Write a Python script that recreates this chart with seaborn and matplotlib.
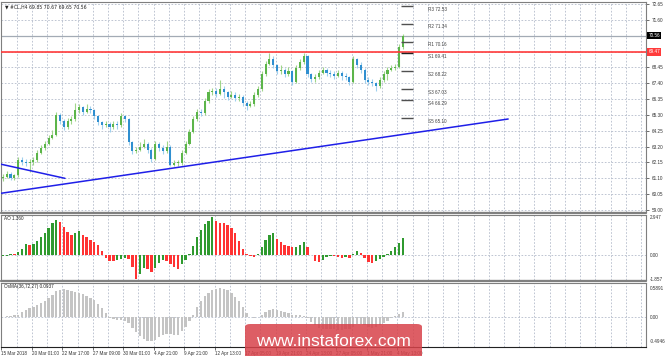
import numpy as np
import pandas as pd
import matplotlib
matplotlib.use("Agg")
import matplotlib.pyplot as plt
import seaborn as sns
from matplotlib.patches import FancyBboxPatch
from matplotlib.lines import Line2D

# ---------------- data ----------------
closes = [61.2, 61.4, 61.1, 61.3, 62.3, 62.2, 62.1, 62.2, 62.3, 62.8,
          63.1, 63.4, 63.8, 64.0, 65.3, 64.9, 64.5, 64.9, 65.0, 65.6,
          65.8, 65.5, 65.7, 65.6, 65.2, 64.8, 64.6, 64.7, 64.5, 64.7,
          64.6, 65.2, 65.0, 63.5, 62.9, 63.0, 63.2, 63.4, 63.0, 62.4,
          63.4, 63.1, 62.9, 63.2, 62.0, 62.1, 62.1, 62.8, 63.4, 64.2,
          65.0, 65.5, 65.4, 66.2, 66.8, 66.9, 66.7, 67.0, 66.8, 66.5,
          66.6, 66.4, 66.5, 66.1, 65.9, 66.0, 66.6, 67.0, 68.0, 68.7,
          69.0, 68.6, 68.2, 68.3, 68.0, 68.2, 67.5, 68.4, 68.8, 69.2,
          68.0, 67.7, 67.8, 68.1, 68.3, 68.1, 68.0, 67.9, 68.1, 67.9,
          67.8, 67.5, 69.0, 68.6, 68.3, 67.6, 67.5, 67.4, 67.2, 67.6,
          68.0, 68.3, 68.4, 68.5, 69.8, 70.56]
highs = [61.4, 61.6, 61.5, 61.4, 62.5, 62.5, 62.4, 62.4, 62.5, 63.0,
         63.3, 63.6, 64.0, 64.3, 65.5, 65.4, 65.0, 65.1, 65.2, 66.1,
         66.0, 65.9, 66.0, 65.9, 65.7, 65.3, 64.9, 64.9, 64.8, 64.9,
         64.9, 65.4, 65.3, 65.1, 63.6, 63.2, 63.5, 63.7, 63.5, 63.1,
         63.6, 63.5, 63.3, 63.6, 63.3, 62.3, 62.3, 63.0, 63.6, 64.4,
         65.2, 65.7, 65.7, 66.4, 67.0, 67.1, 67.1, 67.6, 67.2, 66.9,
         66.9, 66.8, 66.7, 66.6, 66.2, 66.2, 66.8, 67.2, 68.2, 68.9,
         69.4, 69.2, 68.7, 68.6, 68.4, 68.5, 68.3, 68.6, 69.0, 69.4,
         69.3, 68.1, 68.0, 68.3, 68.5, 68.4, 68.3, 68.2, 68.3, 68.2,
         68.1, 67.9, 69.2, 69.1, 68.8, 68.4, 67.8, 67.7, 67.5, 67.8,
         68.2, 68.5, 68.6, 68.7, 70.0, 70.67]
lows = [60.95, 61.1, 61.0, 61.0, 61.2, 62.0, 61.9, 61.5, 62.0, 62.2,
        62.7, 63.0, 63.3, 63.7, 63.9, 64.7, 64.3, 64.4, 64.7, 64.9,
        65.4, 65.3, 65.4, 65.4, 65.0, 64.6, 64.4, 64.5, 64.2, 64.4,
        64.4, 64.5, 64.8, 63.3, 62.7, 62.8, 62.9, 63.1, 62.8, 62.2,
        62.3, 62.9, 62.7, 62.8, 61.9, 61.9, 61.9, 62.0, 62.7, 63.3,
        64.1, 64.9, 65.2, 65.3, 66.1, 66.6, 66.5, 66.6, 66.4, 66.3,
        66.4, 66.2, 66.2, 65.9, 65.6, 65.8, 65.9, 66.5, 66.9, 67.9,
        68.6, 68.4, 68.0, 68.0, 67.8, 67.9, 67.3, 67.4, 68.3, 68.7,
        67.8, 67.5, 67.5, 67.7, 68.0, 67.9, 67.8, 67.7, 67.8, 67.6,
        67.6, 67.3, 67.4, 68.4, 68.1, 67.4, 67.3, 67.2, 66.9, 67.1,
        67.5, 67.6, 68.2, 68.3, 68.4, 69.65]
first_open = 61.1

ao_values = [-0.1, -0.05, 0.1, 0.08, 0.25, 0.45, 0.85, 0.8, 0.9, 1.1,
             1.4, 1.7, 2.1, 2.5, 2.75, 2.6, 2.2, 1.8, 1.6, 1.7,
             1.85, 1.6, 1.45, 1.2, 1.0, 0.8, 0.3, -0.2, -0.45, -0.5,
             -0.4, -0.3, -0.2, -0.3, -0.9, -1.857, -1.5, -1.0, -1.1, -1.35,
             -1.0, -0.6, -0.4, -0.45, -0.7, -0.9, -1.05, -0.7, -0.4, 0.1,
             0.7, 1.4, 2.0, 2.4, 2.7, 2.947, 2.7, 2.55, 2.5, 2.35,
             2.1, 1.7, 1.1, 0.5, 0.05, -0.1, -0.15, 0.1, 0.6, 1.2,
             1.6, 1.75, 1.3, 1.0, 0.8, 0.7, 0.6, 0.65, 0.8, 1.0,
             0.6, 0.0, -0.5, -0.55, -0.35, -0.15, -0.05, -0.1, -0.15, -0.2,
             -0.15, -0.25, 0.1, 0.35, 0.2, -0.2, -0.55, -0.6, -0.5, -0.3,
             -0.15, 0.05, 0.35, 0.6, 0.95, 1.36]
osma_values = [0.0, 0.01, 0.02, 0.03, 0.05, 0.1, 0.15, 0.18, 0.2, 0.24,
               0.28, 0.33, 0.4, 0.46, 0.53, 0.56, 0.57, 0.56, 0.54, 0.52,
               0.5, 0.47, 0.44, 0.4, 0.34, 0.27, 0.18, 0.08, -0.02, -0.05,
               -0.06, -0.06, -0.08, -0.13, -0.22, -0.32, -0.4, -0.45, -0.49, -0.4946,
               -0.47, -0.42, -0.37, -0.35, -0.36, -0.38, -0.37, -0.3, -0.2, -0.08,
               0.05, 0.2, 0.33, 0.43, 0.5, 0.55, 0.58, 0.5891, 0.58, 0.55,
               0.5, 0.42, 0.32, 0.2, 0.08, 0.0, -0.03, 0.0, 0.05, 0.1,
               0.14, 0.16, 0.15, 0.12, 0.1, 0.08, 0.05, 0.04, 0.03, 0.02,
               -0.03, -0.1, -0.17, -0.22, -0.24, -0.25, -0.25, -0.26, -0.27, -0.27,
               -0.26, -0.25, -0.2, -0.15, -0.14, -0.16, -0.2, -0.22, -0.2, -0.17,
               -0.13, -0.08, -0.03, 0.02, 0.06, 0.0937]

date_labels = ["15 Mar 2018", "20 Mar 01:00", "22 Mar 17:00", "27 Mar 09:00",
               "30 Mar 01:00", "4 Apr 21:00", "9 Apr 21:00", "12 Apr 13:00",
               "17 Apr 05:00", "19 Apr 21:00", "24 Apr 13:00", "27 Apr 05:00",
               "1 May 21:00", "4 May 13:00"]
price_ticks = [72.65, 71.60, 70.55, 69.50, 68.45, 67.40, 66.35, 65.30,
               64.25, 63.20, 62.15, 61.10, 60.05, 59.00]

pivot_names = ["R3", "R2", "R1", "S1", "S2", "S3", "S4", "S5"]
pivot_values = [72.53, 71.34, 70.16, 69.41, 68.22, 67.03, 66.29, 65.10]

trend_up_x = [-0.76, 132.7]
trend_up_y = [60.10, 65.03]
trend_down_x = [-0.76, 16.3]
trend_down_y = [62.05, 61.10]

resistance_level = 69.47
bid_price = 70.56
header = "\u25bc #CL,H4 69.85 70.67 69.65 70.56"
ao_title = "AO 1.360"
osma_title = "OsMA(36,72,27) 0.0937"
watermark = "www.instaforex.com"

# ---------------- style ----------------
sns.set_style("white")
plt.rcParams["font.family"] = ["Liberation Sans", "DejaVu Sans"]

W, H = 665, 356
fig = plt.figure(figsize=(W / 100, H / 100), dpi=100)
fig.patch.set_facecolor("white")

def ax_rect(x0, y0, x1, y1):
    return [x0 / W, 1 - y1 / H, (x1 - x0) / W, (y1 - y0) / H]

ax_p = fig.add_axes(ax_rect(1, 2, 646, 212))
ax_a = fig.add_axes(ax_rect(1, 214.5, 646, 280))
ax_o = fig.add_axes(ax_rect(1, 282.5, 646, 347))

XMIN, XMAX = -0.5, 168.9
grid_kw = dict(color="#b4bccb", lw=0.6, linestyle=(0, (2, 2)))
tick_fs = 3.3

df = pd.DataFrame({"i": np.arange(len(closes)), "close": closes,
                   "high": highs, "low": lows, "ao": ao_values, "osma": osma_values})
df["open"] = [first_open] + closes[:-1]
df["up"] = df["close"] >= df["open"]

vgrid = np.arange(1, 43) * 4 - 0.4
xticks = np.arange(len(date_labels)) * 8 - 0.4

for ax in (ax_p, ax_a, ax_o):
    ax.set_xlim(XMIN, XMAX)
    for v in vgrid:
        ax.axvline(v, zorder=0, **grid_kw)
    for s in ax.spines.values():
        s.set_color("#7f7f7f")
        s.set_linewidth(0.8)

# ---- price panel ----
ax_p.set_ylim(58.87, 72.78)
for v in price_ticks:
    ax_p.axhline(v, zorder=0, **grid_kw)

up = df[df["up"]]
dn = df[~df["up"]]
ax_p.vlines(up["i"], up["low"], up["high"], color="#9fd68a", lw=0.8, zorder=2)
ax_p.vlines(dn["i"], dn["low"], dn["high"], color="#9fd0ee", lw=0.8, zorder=2)
body_up = np.maximum(up["close"] - up["open"], 0.06)
body_dn = np.maximum(dn["open"] - dn["close"], 0.06)
ax_p.bar(up["i"], body_up, bottom=up["open"], width=0.55, color="#5cb54a", zorder=3, linewidth=0)
ax_p.bar(dn["i"], body_dn, bottom=dn["close"], width=0.55, color="#2f8fd0", zorder=3, linewidth=0)

ax_p.plot(trend_up_x, trend_up_y, color="#1f1fe8", lw=1.1, zorder=4)
ax_p.plot(trend_down_x, trend_down_y, color="#1f1fe8", lw=1.1, zorder=4)
ax_p.axhline(resistance_level, color="#ff3b3b", lw=1.2, zorder=4)
ax_p.axhline(bid_price, color="#a3abb5", lw=0.9, zorder=1)

for name, val in zip(pivot_names, pivot_values):
    ax_p.plot([104.5, 107.6], [val, val], color="#505050" if name != "S1" else "#202020",
              lw=1.0, zorder=4, solid_capstyle="butt")
    ax_p.text(111.7, val - 0.05, f"{name} {val:.2f}", fontsize=3.3, color="#404040",
              va="top", ha="left", zorder=5)

ax_p.yaxis.tick_right()
ax_p.set_yticks(price_ticks)
ax_p.set_yticklabels([f"{v:.2f}" if v not in (70.55, 69.50) else "" for v in price_ticks])
ax_p.tick_params(axis="y", labelsize=tick_fs, length=2.5, width=0.5, pad=1.5,
                 colors="#333333", right=True)
ax_p.set_xticks([])
ax_p.text(1.004, bid_price, f"{bid_price:.2f}", transform=ax_p.get_yaxis_transform(),
          fontsize=tick_fs, color="white", va="center", ha="left", clip_on=False, zorder=10,
          bbox=dict(boxstyle="square,pad=0.25", fc="black", ec="black", lw=0))
ax_p.text(1.004, resistance_level, f"{resistance_level:.2f}", transform=ax_p.get_yaxis_transform(),
          fontsize=tick_fs, color="white", va="center", ha="left", clip_on=False, zorder=10,
          bbox=dict(boxstyle="square,pad=0.25", fc="#ff3b3b", ec="#ff3b3b", lw=0))
ax_p.text(0.006, 0.99, header, transform=ax_p.transAxes, fontsize=3.3, va="top",
          ha="left", color="#222222", family=["DejaVu Sans"])

# ---- AO panel ----
ao_dir = ["up"] + ["up" if b > a else "down" for a, b in zip(ao_values[:-1], ao_values[1:])]
df["ao_dir"] = ao_dir
sns.barplot(data=df, x="i", y="ao", hue="ao_dir", palette={"up": "#2f9a2f", "down": "#ff3333"},
            native_scale=True, dodge=False, width=0.62, errorbar=None, legend=False,
            saturation=1, linewidth=0, ax=ax_a, zorder=3)
ax_a.set_ylim(-1.95, 3.18)
ax_a.axhline(0, zorder=0, **grid_kw)
ax_a.yaxis.tick_right()
ax_a.set_yticks([2.947, 0, -1.857])
ax_a.set_yticklabels(["2.947", "0.00", "-1.857"])
ax_a.tick_params(axis="y", labelsize=tick_fs, length=0, pad=2.5, colors="#333333")
ax_a.set_xticks([])
ax_a.set_xlim(XMIN, XMAX)
ax_a.set_xlabel("")
ax_a.set_ylabel("")
ax_a.text(0.004, 0.97, ao_title, transform=ax_a.transAxes, fontsize=3.3, va="top", ha="left",
          color="#222222")

# ---- OsMA panel ----
sns.barplot(data=df, x="i", y="osma", color="#c4c4c4", native_scale=True, width=0.62,
            errorbar=None, saturation=1, linewidth=0, ax=ax_o, zorder=3)
ax_o.set_ylim(-0.622, 0.712)
ax_o.axhline(0, zorder=0, **grid_kw)
ax_o.yaxis.tick_right()
ax_o.set_yticks([0.5891, 0, -0.4946])
ax_o.set_yticklabels(["0.5891", "0.00", "-0.4946"])
ax_o.tick_params(axis="y", labelsize=tick_fs, length=0, pad=2.5, colors="#333333")
ax_o.set_xlim(XMIN, XMAX)
ax_o.set_xticks(xticks)
ax_o.set_xticklabels(date_labels, ha="left")
ax_o.tick_params(axis="x", labelsize=tick_fs, length=2, width=0.5, pad=1, colors="#333333",
                 bottom=True)
ax_o.set_xlabel("")
ax_o.set_ylabel("")
ax_o.spines["bottom"].set_color("#222222")
ax_o.text(0.004, 0.97, osma_title, transform=ax_o.transAxes, fontsize=3.3, va="top", ha="left",
          color="#222222")

# panel separators
for ysep in (213.2, 281.2):
    fig.add_artist(Line2D([1 / W, 646 / W], [1 - ysep / H, 1 - ysep / H],
                          color="#808080", lw=1.6, transform=fig.transFigure))

# watermark
fig.add_artist(FancyBboxPatch((245 / W, -0.02), 177 / W, (356 - 324) / H + 0.02,
                              boxstyle="round,pad=0,rounding_size=0.008",
                              transform=fig.transFigure, fc="#d8424a", ec="none", alpha=0.85))
fig.text(333.5 / W, 1 - 341 / H, watermark, fontsize=12.5, color="white", ha="center",
         va="center", family=["Liberation Sans"])

fig.savefig("out.png", dpi=100, facecolor="white")
